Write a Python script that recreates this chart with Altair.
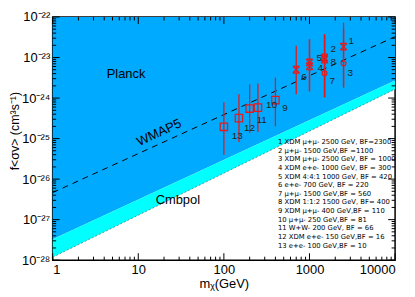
import altair as alt
import pandas as pd

# ---------------- data ----------------
ids = [str(i) for i in range(1, 14)]
masses = [2500, 1500, 2500, 1000, 1000, 700, 1500, 1500, 400, 250, 200, 150, 100]
fsv = [1.86e-23, 1.0e-23, 7.2e-24, 6.1e-24, 7.5e-24, 5.0e-24, 4.1e-24, 8.9e-24,
       8.9e-25, 5.8e-25, 5.5e-25, 3.2e-25, 1.95e-25]
err_hi = [7.2e-23, 3.7e-23, 5.0e-23, 2.8e-23, 2.8e-23, 1.96e-23, 3.7e-23, 3.7e-23,
          3.2e-24, 2.3e-24, 2.2e-24, 1.24e-24, 7.9e-25]
err_lo = [1.83e-24, 1.05e-24, 1.83e-24, 1.47e-24, 1.47e-24, 1.24e-24, 1.05e-24, 1.05e-24,
          2.0e-25, 1.45e-25, 1.37e-25, 8.2e-26, 4.0e-26]
marker_kind = ["x", "x", "o", "x", "x", "x", "o", "x", "s", "s", "s", "s", "s"]

bound_mass = [1, 10000]
planck = [3.27e-28, 2.73e-24]
cmbpol = [1.18e-28, 1.66e-24]
wmap5 = [4.65e-27, 3.27e-23]
top_val = [1e-22, 1e-22]

legend_lines = [
    "1 XDM \u03bc+\u03bc- 2500 GeV, BF=2300",
    "2 \u03bc+\u03bc- 1500 GeV,BF =1100",
    "3 XDM \u03bc+\u03bc-  2500 GeV, BF = 1000",
    "4 XDM e+e-  1000 GeV, BF = 300",
    "5 XDM 4:4:1 1000 GeV, BF = 420",
    "6 e+e-  700 GeV, BF = 220",
    "7 \u03bc+\u03bc- 1500 GeV,BF = 560",
    "8 XDM 1:1:2 1500 GeV, BF= 400",
    "9 XDM \u03bc+\u03bc- 400 GeV,BF = 110",
    "10 \u03bc+\u03bc- 250 GeV,BF = 81",
    "11 W+W- 200 GeV, BF = 66",
    "12 XDM e+e- 150 GeV,BF = 16",
    "13 e+e- 100 GeV,BF = 10",
]

x_ticks = [1, 10, 100, 1000, 10000]
y_ticks = [1e-28, 1e-27, 1e-26, 1e-25, 1e-24, 1e-23, 1e-22]
y_tick_labels = ["10\u207b\u00b2\u2078", "10\u207b\u00b2\u2077", "10\u207b\u00b2\u2076",
                 "10\u207b\u00b2\u2075", "10\u207b\u00b2\u2074", "10\u207b\u00b2\u00b3",
                 "10\u207b\u00b2\u00b2"]

region_labels = ["Planck", "WMAP5", "Cmbpol"]
region_mass = [7.2, 17.5, 29]
region_f = [4.0e-24, 1.4e-25, 3.0e-27]

# ---------------- layout / style ----------------
W, H = 345, 245
RED = "#e41b1b"
BLUE = "#00aaff"
CYAN = "#00ffff"
FONT = "Liberation Sans"
label_offsets = [(5, -6), (6, -9), (4, 10), (8, 2), (7, -5), (5, 7), (5, 8),
                 (6, 2), (7, 8), (8, -3), (7, 12), (5, 10), (8, 9)]

xs = alt.Scale(type="log", domain=[1, 10000], nice=False)
ys = alt.Scale(type="log", domain=[1e-28, 1e-22], nice=False)

bounds = pd.DataFrame({"m": bound_mass, "planck": planck, "cmbpol": cmbpol,
                       "wmap5": wmap5, "top": top_val})
pts = pd.DataFrame({"id": ids, "m": masses, "f": fsv, "hi": err_hi, "lo": err_lo,
                    "kind": marker_kind})

y_expr = " : ".join(
    f"datum.value < {v * 3:.3e} ? '{lab}'" for v, lab in zip(y_ticks[:-1], y_tick_labels[:-1])
) + f" : '{y_tick_labels[-1]}'"

blue_area = alt.Chart(bounds).mark_area(color=BLUE, opacity=1).encode(
    x=alt.X("m:Q", scale=xs,
            axis=alt.Axis(values=x_ticks, labelExpr="format(datum.value, 'd')",
                          title="m\u1d6a(GeV)", titlePadding=2)),
    y=alt.Y("planck:Q", scale=ys,
            axis=alt.Axis(values=y_ticks, labelExpr=y_expr,
                          title="f<\u03c3v> (cm\u00b3s\u207b\u00b9)", titleFontSize=12.5,
                          titleX=-31, titleY=H / 2 - 8, titleAnchor="middle")),
    y2="top:Q",
)
cyan_area = alt.Chart(bounds).mark_area(color=CYAN, opacity=1).encode(
    x=alt.X("m:Q", scale=xs), y=alt.Y("cmbpol:Q", scale=ys), y2="planck:Q"
)
cmb_line = alt.Chart(bounds).mark_line(color="#555555", strokeWidth=0.6,
                                       strokeDash=[2, 2]).encode(
    x=alt.X("m:Q", scale=xs), y=alt.Y("cmbpol:Q", scale=ys)
)
wmap_line = alt.Chart(bounds).mark_line(color="black", strokeWidth=1,
                                        strokeDash=[6, 5]).encode(
    x=alt.X("m:Q", scale=xs), y=alt.Y("wmap5:Q", scale=ys)
)

regions = pd.DataFrame({"t": region_labels, "m": region_mass, "f": region_f})
reg_text = []
for i, ang in enumerate([0, 335, 0]):
    reg_text.append(
        alt.Chart(regions.iloc[[i]]).mark_text(font=FONT, fontSize=13, color="black",
                                               angle=ang).encode(
            x=alt.X("m:Q", scale=xs), y=alt.Y("f:Q", scale=ys), text="t:N")
    )

errbars = alt.Chart(pts).mark_rule(color=RED, strokeWidth=1.3).encode(
    x=alt.X("m:Q", scale=xs), y=alt.Y("lo:Q", scale=ys), y2="hi:Q"
)
XPATH = "M-1,-1L1,1M1,-1L-1,1M-1,-1L1,-1M-1,1L1,1"
mx = alt.Chart(pts).transform_filter("datum.kind == 'x'").mark_point(
    shape=XPATH, size=45, color=RED, filled=False, strokeWidth=1.3, opacity=1).encode(
    x=alt.X("m:Q", scale=xs), y=alt.Y("f:Q", scale=ys))
mo = alt.Chart(pts).transform_filter("datum.kind == 'o'").mark_point(
    shape="circle", size=25, color=RED, filled=False, strokeWidth=1.2, opacity=1).encode(
    x=alt.X("m:Q", scale=xs), y=alt.Y("f:Q", scale=ys))
ms = alt.Chart(pts).transform_filter("datum.kind == 's'").mark_point(
    shape="square", size=55, color=RED, filled=False, strokeWidth=1.3, opacity=1).encode(
    x=alt.X("m:Q", scale=xs), y=alt.Y("f:Q", scale=ys))

pt_labels = []
for i, (dx, dy) in enumerate(label_offsets):
    pt_labels.append(
        alt.Chart(pts.iloc[[i]]).mark_text(font=FONT, fontSize=10, color="#222222",
                                           dx=dx, dy=dy, align="left").encode(
            x=alt.X("m:Q", scale=xs), y=alt.Y("f:Q", scale=ys), text="id:N")
    )

legend_text = alt.Chart(pd.DataFrame({"a": [0]})).mark_text(
    font="DejaVu Sans", fontSize=6.9, fontWeight=500, color="black", align="left",
    baseline="top", lineHeight=8.7).encode(
    x=alt.value(227), y=alt.value(123), text=alt.value(legend_lines))

# inward ticks
def minor(decs):
    return [k * 10.0 ** e for e in decs for k in range(2, 10)]

ymaj = pd.DataFrame({"v": y_ticks})
ymin = pd.DataFrame({"v": minor(range(-28, -22))})
xmaj = pd.DataFrame({"v": x_ticks})
xmin = pd.DataFrame({"v": minor(range(0, 4))})

tick_layers = []
for df, L in [(ymaj, 7), (ymin, 3.5)]:
    for x0, x1 in [(0, L), (W, W - L)]:
        tick_layers.append(alt.Chart(df).mark_rule(color="black", strokeWidth=1).encode(
            y=alt.Y("v:Q", scale=ys), x=alt.value(x0), x2=alt.value(x1)))
for df, L in [(xmaj, 7), (xmin, 3.5)]:
    for y0, y1 in [(H, H - L), (0, L)]:
        tick_layers.append(alt.Chart(df).mark_rule(color="black", strokeWidth=1).encode(
            x=alt.X("v:Q", scale=xs), y=alt.value(y0), y2=alt.value(y1)))

chart = alt.layer(
    blue_area, cyan_area, cmb_line, wmap_line, *reg_text, errbars, mx, mo, ms,
    *pt_labels, legend_text, *tick_layers
).properties(
    width=W, height=H,
    autosize=alt.AutoSizeParams(type="none"),
    padding={"left": 45, "top": 8, "right": 12, "bottom": 30},
    background="white",
).configure_view(
    stroke="black", strokeWidth=1.5
).configure_axis(
    domain=False, ticks=False, grid=False, labelFont=FONT, labelFontSize=13,
    labelColor="black", titleFont=FONT, titleFontSize=13, titleFontWeight="normal",
    titleColor="black", labelPadding=3,
)

chart.save("out.html", embed_options={"renderer": "svg", "actions": False})
